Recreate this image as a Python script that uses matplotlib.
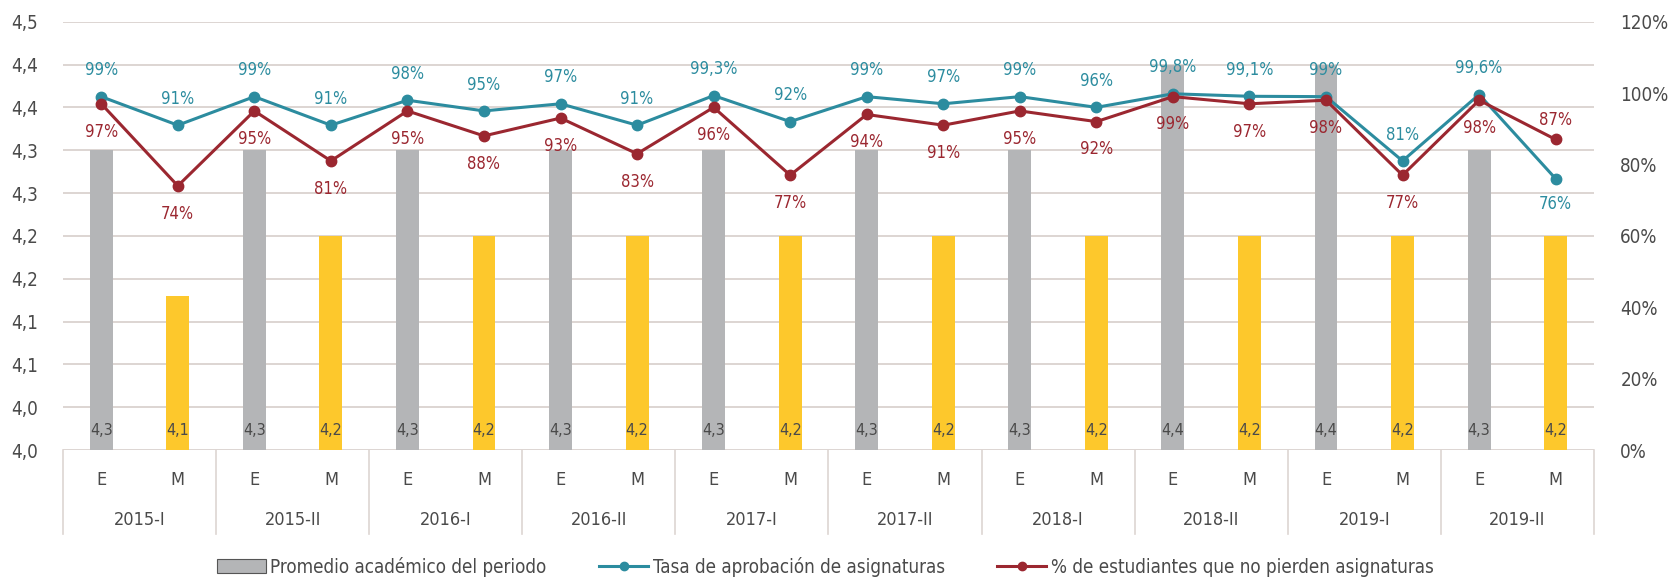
import numpy as np
import matplotlib
matplotlib.use("Agg")
import matplotlib.pyplot as plt
from matplotlib.patches import Patch
from matplotlib.lines import Line2D
import matplotlib.transforms as mtransforms

plt.rcParams['font.family'] = ['DejaVu Sans']
plt.rcParams['font.stretch'] = 'condensed'

periodos = ["2015-I", "2015-II", "2016-I", "2016-II", "2017-I",
            "2017-II", "2018-I", "2018-II", "2019-I", "2019-II"]
subgrupos = ["E", "M"]

promedio = [4.35, 4.18, 4.35, 4.25, 4.35, 4.25, 4.35, 4.25, 4.35, 4.25,
            4.35, 4.25, 4.35, 4.25, 4.45, 4.25, 4.45, 4.25, 4.35, 4.25]
promedio_txt = ["4,3", "4,1", "4,3", "4,2", "4,3", "4,2", "4,3", "4,2", "4,3", "4,2",
                "4,3", "4,2", "4,3", "4,2", "4,4", "4,2", "4,4", "4,2", "4,3", "4,2"]

aprobacion = [99, 91, 99, 91, 98, 95, 97, 91, 99.3, 92,
              99, 97, 99, 96, 99.8, 99.1, 99, 81, 99.6, 76]
aprobacion_txt = ["99%", "91%", "99%", "91%", "98%", "95%", "97%", "91%", "99,3%", "92%",
                  "99%", "97%", "99%", "96%", "99,8%", "99,1%", "99%", "81%", "99,6%", "76%"]

no_pierden = [97, 74, 95, 81, 95, 88, 93, 83, 96, 77,
              94, 91, 95, 92, 99, 97, 98, 77, 98, 87]
no_pierden_txt = ["97%", "74%", "95%", "81%", "95%", "88%", "93%", "83%", "96%", "77%",
                  "94%", "91%", "95%", "92%", "99%", "97%", "98%", "77%", "98%", "87%"]

left_ticks = np.arange(4.0, 4.501, 0.05)
left_ticklabels = ["4,0", "4,0", "4,1", "4,1", "4,2", "4,2", "4,3", "4,3", "4,4", "4,4", "4,5"]
right_ticks = [0, 20, 40, 60, 80, 100, 120]

GRIS = "#b4b5b7"
AMARILLO = "#fdc82c"
AZUL = "#2c8c9f"
ROJO = "#9b2730"
TEXTO = "#4a4a4a"
GRID = "#ddd5d2"

fig = plt.figure(figsize=(16.75, 5.83), dpi=100)
ax = fig.add_axes([0.0376, 0.2281, 0.9140, 0.7347])

x = np.arange(len(promedio))
colores = [GRIS if i % 2 == 0 else AMARILLO for i in x]
ax.bar(x, np.array(promedio) - 4.0, bottom=4.0, width=0.3, color=colores, zorder=2)

ax.set_xlim(-0.5, len(x) - 0.5)
ax.set_ylim(4.0, 4.5)
ax.set_yticks(left_ticks)
ax.set_yticklabels(left_ticklabels)
ax.set_xticks([])
ax.grid(axis="y", color=GRID, linewidth=1.4, zorder=0)
for s in ax.spines.values():
    s.set_visible(False)
ax.tick_params(axis="y", length=0, pad=18, labelsize=13.5, labelcolor=TEXTO)

for i, t in zip(x, promedio_txt):
    ax.text(i, 4.0 + 0.023, t, ha="center", va="center", fontsize=11.5, color=TEXTO, zorder=3)

# categorias del eje x
trans = mtransforms.blended_transform_factory(ax.transData, ax.transAxes)
for i in x:
    ax.text(i, -0.07, subgrupos[i % 2], transform=trans, ha="center", va="center",
            fontsize=13, color=TEXTO)
for k, p in enumerate(periodos):
    ax.text(2 * k + 0.5, -0.163, p, transform=trans, ha="center", va="center",
            fontsize=13, color=TEXTO)
for k in range(len(periodos) + 1):
    ax.plot([2 * k - 0.5, 2 * k - 0.5], [0, -0.195], transform=trans, color=GRID,
            linewidth=1.2, clip_on=False)

ax2 = ax.twinx()
ax2.set_ylim(0, 120)
ax2.set_yticks(right_ticks)
ax2.set_yticklabels([f"{v}%" for v in right_ticks])
for s in ax2.spines.values():
    s.set_visible(False)
ax2.tick_params(axis="y", length=0, pad=19, labelsize=13.5, labelcolor=TEXTO)

ax2.plot(x, aprobacion, color=AZUL, linewidth=2.2, marker="o", markersize=7.5, zorder=3)
ax2.plot(x, no_pierden, color=ROJO, linewidth=2.2, marker="o", markersize=7.5, zorder=4)

for i in x:
    arriba = i != len(x) - 1
    ax2.annotate(aprobacion_txt[i], (i, aprobacion[i]),
                 xytext=(0, 19 if arriba else -18), textcoords="offset points",
                 ha="center", va="center", fontsize=12, color=AZUL)
    ax2.annotate(no_pierden_txt[i], (i, no_pierden[i]),
                 xytext=(0, -20 if arriba else 14), textcoords="offset points",
                 ha="center", va="center", fontsize=12, color=ROJO)

handles = [
    Patch(facecolor=GRIS, edgecolor="#555555", linewidth=0.8),
    Line2D([], [], color=AZUL, linewidth=2.2, marker="o", markersize=6),
    Line2D([], [], color=ROJO, linewidth=2.2, marker="o", markersize=6),
]
labels = ["Promedio académico del periodo", "Tasa de aprobación de asignaturas",
          "% de estudiantes que no pierden asignaturas"]
fig.legend(handles, labels, loc="center", bbox_to_anchor=(0.4927, 0.028), ncol=3,
           frameon=False, fontsize=13.5, handlelength=2.6, handleheight=0.8,
           handletextpad=0.25, columnspacing=2.8, labelcolor=TEXTO)

fig.savefig("out.png", dpi=100, facecolor="white")
